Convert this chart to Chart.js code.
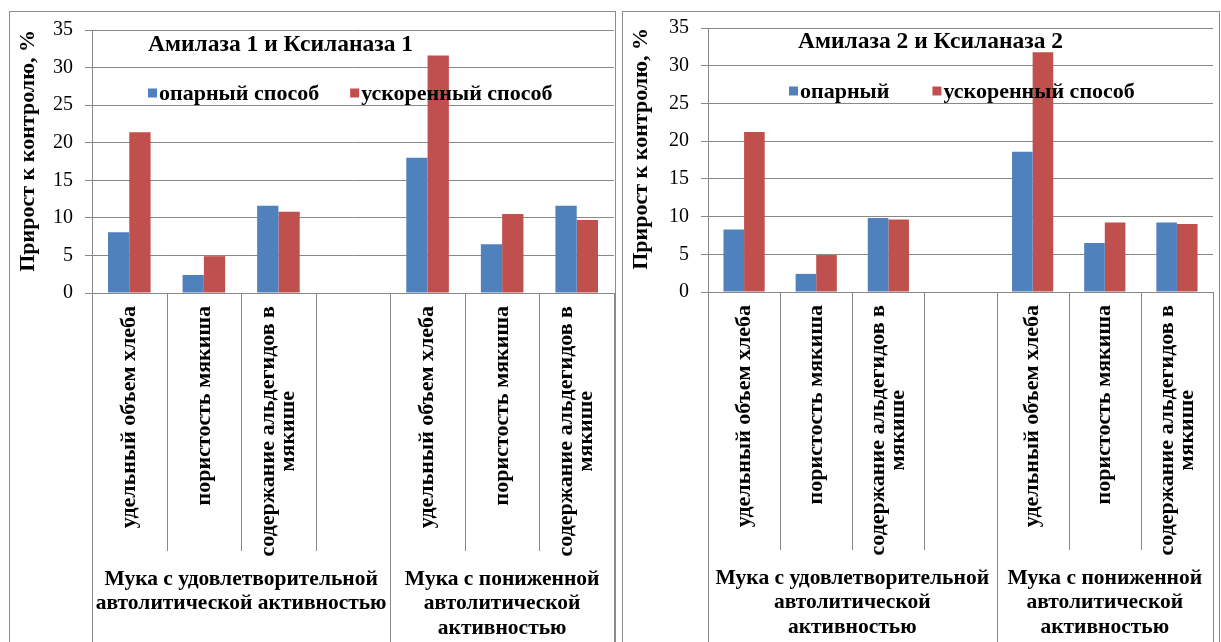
<!DOCTYPE html>
<html>
<head>
<meta charset="utf-8">
<script src="https://cdn.jsdelivr.net/npm/chart.js@4/dist/chart.umd.min.js"></script>
<style>
  html, body { margin: 0; padding: 0; background: #fff; }
  body { width: 1221px; height: 642px; position: relative; overflow: hidden; }
  .frame { position: absolute; border: 1px solid #8c8c8c; box-sizing: border-box; }
  #frame1 { left: 9px; top: 11px; width: 607px; height: 640px; }
  #frame2 { left: 622px; top: 11px; width: 598px; height: 640px; }
  canvas { position: absolute; }
  #chart1 { left: 10px; top: 12px; }
  #chart2 { left: 623px; top: 12px; }
</style>
</head>
<body>
<div class="frame" id="frame1"></div>
<div class="frame" id="frame2"></div>
<canvas id="chart1" width="605" height="630"></canvas>
<canvas id="chart2" width="596" height="630"></canvas>
<script>
// Category labels (one array of lines per category); the 4th slot is an empty spacer
const categories = [
  ['удельный объем хлеба'],
  ['пористость мякиша'],
  ['содержание альдегидов в', 'мякише'],
  [''],
  ['удельный объем хлеба'],
  ['пористость мякиша'],
  ['содержание альдегидов в', 'мякише']
];

// Second-level groups: how many categories each covers, and their captions
const groupSizes = [4, 3];
const groupNames1 = [
  ['Мука с удовлетворительной', 'автолитической активностью'],
  ['Мука с пониженной', 'автолитической', 'активностью']
];
const groupNames2 = [
  ['Мука с удовлетворительной', 'автолитической', 'активностью'],
  ['Мука с пониженной', 'автолитической', 'активностью']
];

const chartTitles = ['Амилаза 1 и Ксиланаза 1', 'Амилаза 2 и Ксиланаза 2'];
const seriesNames1 = ['опарный способ', 'ускоренный способ'];
const seriesNames2 = ['опарный', 'ускоренный способ'];
const yTitle = 'Прирост к контролю, %';
const yRange = { min: 0, max: 35, step: 5 };

// Growth relative to control, %
const sponge1 = [8.1, 2.4, 11.6, null, 18.0, 6.5, 11.6];
const accel1  = [21.4, 4.9, 10.8, null, 31.6, 10.5, 9.7];
const sponge2 = [8.3, 2.4, 9.8, null, 18.6, 6.5, 9.2];
const accel2  = [21.2, 4.9, 9.6, null, 31.8, 9.2, 9.0];

const BLUE = '#4F81BD';
const RED = '#C0504D';
const GRID = '#888888';
const FONT = '"Liberation Serif", "Times New Roman", serif';

Chart.defaults.font.family = FONT;
Chart.defaults.color = '#000';

// Draws the two-level category axis below the plot: rotated category captions,
// separators between categories and the group captions underneath.
const multiLevelAxis = {
  id: 'multiLevelAxis',
  afterDraw(chart, args, o) {
    const ctx = chart.ctx;
    const xs = chart.scales.x;
    const area = chart.chartArea;
    const n = chart.data.labels.length;
    const step = xs.getPixelForValue(1) - xs.getPixelForValue(0);
    const edge = i => (i < n ? xs.getPixelForValue(i) - step / 2 : xs.getPixelForValue(n - 1) + step / 2);

    const groupEdges = [0];
    o.sizes.forEach(s => groupEdges.push(groupEdges[groupEdges.length - 1] + s));

    ctx.save();
    ctx.strokeStyle = GRID;
    ctx.lineWidth = 1;
    for (let i = 0; i <= n; i++) {
      const x = Math.round(edge(i)) + 0.5;
      const full = groupEdges.includes(i);
      ctx.beginPath();
      ctx.moveTo(x, area.bottom);
      ctx.lineTo(x, full ? chart.height : area.bottom + o.sepLength);
      ctx.stroke();
    }

    // rotated category captions, lines centred on one another, block top-aligned
    ctx.fillStyle = '#000';
    ctx.font = `bold ${o.catSize}px ${FONT}`;
    ctx.textAlign = 'center';
    ctx.textBaseline = 'middle';
    chart.data.labels.forEach((lines, i) => {
      const cx = xs.getPixelForValue(i);
      const longest = Math.max(...lines.map(t => ctx.measureText(t).width));
      const cy = area.bottom + o.catTop + longest / 2;
      lines.forEach((t, j) => {
        ctx.save();
        ctx.translate(cx + (j - (lines.length - 1) / 2) * o.catLine, cy);
        ctx.rotate(-Math.PI / 2);
        ctx.fillText(t, 0, 0);
        ctx.restore();
      });
    });

    // group captions
    ctx.font = `bold ${o.groupSize}px ${FONT}`;
    o.groups.forEach((lines, g) => {
      const cx = (edge(groupEdges[g]) + edge(groupEdges[g + 1])) / 2;
      lines.forEach((t, j) => {
        ctx.fillText(t, cx, area.bottom + o.groupTop + j * o.groupLine);
      });
    });
    ctx.restore();
  }
};

// Title and legend overlaid inside the plot area
const overlayText = {
  id: 'overlayText',
  afterDatasetsDraw(chart, args, o) {
    const ctx = chart.ctx;
    ctx.save();
    ctx.textAlign = 'left';
    ctx.textBaseline = 'middle';
    ctx.fillStyle = '#000';
    ctx.font = `bold ${o.titleSize}px ${FONT}`;
    ctx.fillText(o.title, o.titleX, o.titleY);

    ctx.font = `bold ${o.legendSize}px ${FONT}`;
    let x = o.legendX;
    chart.data.datasets.forEach(ds => {
      ctx.fillStyle = ds.backgroundColor;
      ctx.fillRect(x, o.legendY - o.box / 2, o.box, o.box);
      ctx.fillStyle = '#000';
      ctx.fillText(ds.label, x + o.box + 2, o.legendY + 1);
      x += o.box + 2 + ctx.measureText(ds.label).width + o.legendGap;
    });
    ctx.restore();
  }
};

function buildChart(id, names, a, b, groups, layout) {
  return new Chart(document.getElementById(id), {
    type: 'bar',
    data: {
      labels: categories,
      datasets: [
        { label: names[0], data: a, backgroundColor: BLUE, borderWidth: 0 },
        { label: names[1], data: b, backgroundColor: RED, borderWidth: 0 }
      ]
    },
    options: {
      responsive: false,
      animation: false,
      events: [],
      categoryPercentage: 0.571,
      barPercentage: 1.0,
      layout: { padding: layout.padding },
      scales: {
        x: {
          ticks: { display: false },
          grid: { display: false, drawTicks: false },
          border: { display: true, color: GRID, width: 1 }
        },
        y: {
          min: yRange.min,
          max: yRange.max,
          ticks: { stepSize: yRange.step, padding: 12, color: '#000', font: { size: 20 } },
          grid: { color: GRID, lineWidth: 1, tickLength: 7 },
          border: { color: GRID, width: 1 },
          title: {
            display: true,
            text: yTitle,
            align: 'end',
            color: '#000',
            font: { size: 22, weight: 'bold' },
            padding: { top: layout.yTitlePad, bottom: 0 }
          },
          afterFit(scale) {
            // fixed axis width; the plot edges are set by the layout padding alone
            scale.width = layout.yWidth;
            scale.paddingTop = 0;
            scale.paddingBottom = 0;
          }
        }
      },
      plugins: {
        legend: { display: false },
        title: { display: false },
        tooltip: { enabled: false },
        multiLevelAxis: {
          sizes: groupSizes,
          groups: groups,
          sepLength: 258,
          catTop: 13,
          catSize: 22,
          catLine: 20,
          groupTop: 286,
          groupLine: 24.5,
          groupSize: 21.5
        },
        overlayText: Object.assign({ titleSize: 23.5, legendSize: 22, box: 9 }, layout.overlay)
      }
    },
    plugins: [multiLevelAxis, overlayText]
  });
}

buildChart('chart1', seriesNames1, sponge1, accel1, groupNames1, {
  yWidth: 82,
  yTitlePad: 5,
  padding: { left: 0, right: 1, top: 18, bottom: 349 },
  overlay: { title: chartTitles[0], titleX: 138, titleY: 33, legendX: 138, legendY: 81, legendGap: 31 }
});

buildChart('chart2', seriesNames2, sponge2, accel2, groupNames2, {
  yWidth: 85,
  yTitlePad: 5,
  padding: { left: 0, right: 6, top: 16, bottom: 350 },
  overlay: { title: chartTitles[1], titleX: 175, titleY: 30, legendX: 166, legendY: 79, legendGap: 43 }
});
</script>
</body>
</html>
